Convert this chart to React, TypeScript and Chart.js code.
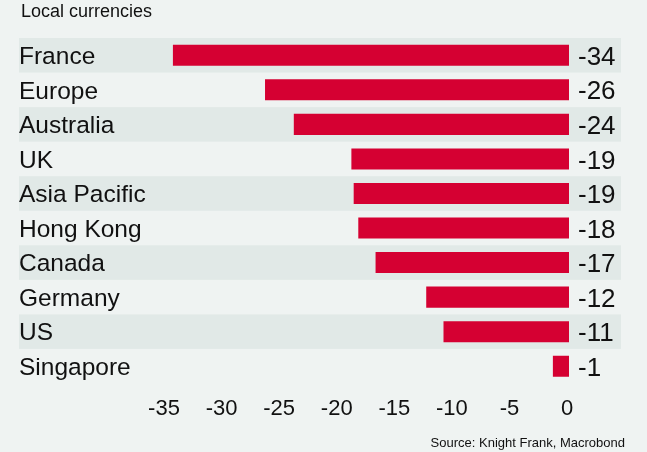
import React, { useEffect, useRef } from "react";
import { Chart, registerables } from "chart.js";

Chart.register(...registerables);

const categories = [
  "France",
  "Europe",
  "Australia",
  "UK",
  "Asia Pacific",
  "Hong Kong",
  "Canada",
  "Germany",
  "US",
  "Singapore",
];
const values = [-34.4, -26.4, -23.9, -18.9, -18.7, -18.3, -16.8, -12.4, -10.9, -1.4];
const valueLabels = ["-34", "-26", "-24", "-19", "-19", "-18", "-17", "-12", "-11", "-1"];
const xMin = -35;
const xMax = 0;
const xStep = 5;
const titleText = "Local currencies";
const sourceText = "Source: Knight Frank, Macrobond";

const BG = "#eff3f2";
const BAND = "#e1e9e7";
const RED = "#d50032";
const TEXT = "#111111";
const FONT = "'Liberation Sans', Arial, sans-serif";

export default function App() {
  const ref = useRef<HTMLCanvasElement | null>(null);

  useEffect(() => {
    if (!ref.current) return;
    const decor = {
      id: "decor",
      beforeDraw(chart: any) {
        const { ctx, width, height } = chart;
        ctx.save();
        ctx.fillStyle = BG;
        ctx.fillRect(0, 0, width, height);
        const y = chart.scales.y;
        const pitch = (y.bottom - y.top) / categories.length;
        ctx.fillStyle = BAND;
        categories.forEach((_c, i) => {
          if (i % 2 === 0) {
            const cy = y.getPixelForValue(i);
            ctx.fillRect(19, cy - pitch / 2, 621 - 19, pitch);
          }
        });
        ctx.fillStyle = TEXT;
        ctx.textBaseline = "middle";
        ctx.textAlign = "left";
        ctx.font = `18px ${FONT}`;
        ctx.fillText(titleText, 21, 12);
        ctx.textAlign = "right";
        ctx.font = `13px ${FONT}`;
        ctx.fillText(sourceText, 625, 443);
        ctx.restore();
      },
      afterDatasetsDraw(chart: any) {
        const { ctx, chartArea } = chart;
        const y = chart.scales.y;
        ctx.save();
        ctx.fillStyle = TEXT;
        ctx.textBaseline = "middle";
        ctx.textAlign = "left";
        ctx.font = `26px ${FONT}`;
        valueLabels.forEach((lab, i) => {
          ctx.fillText(lab, chartArea.right + 9, y.getPixelForValue(i) + 2.5);
        });
        ctx.restore();
      },
    };

    const chart = new Chart(ref.current, {
      type: "bar",
      data: {
        labels: categories,
        datasets: [
          {
            data: values,
            backgroundColor: RED,
            borderWidth: 0,
            categoryPercentage: 1,
            barPercentage: 0.61,
          },
        ],
      },
      options: {
        indexAxis: "y",
        animation: false,
        responsive: false,
        maintainAspectRatio: false,
        layout: { padding: { left: 19, right: 78, top: 38, bottom: 0 } },
        plugins: {
          legend: { display: false },
          tooltip: { enabled: false },
          title: { display: false },
        },
        scales: {
          x: {
            type: "linear",
            min: xMin,
            max: xMax,
            grid: { display: false, drawTicks: false },
            border: { display: false },
            ticks: {
              stepSize: xStep,
              color: TEXT,
              padding: 12,
              labelOffset: -2,
              font: { family: FONT, size: 22 },
            },
            afterFit(scale: any) {
              scale.height = 68.5;
            },
          },
          y: {
            grid: { display: false, drawTicks: false },
            border: { display: false },
            ticks: {
              crossAlign: "far",
              color: TEXT,
              labelOffset: 2,
              font: { family: FONT, size: 24.5 },
            },
            afterFit(scale: any) {
              scale.width = 147;
            },
          },
        },
      } as any,
      plugins: [decor],
    });
    return () => chart.destroy();
  }, []);

  return (
    <div style={{ position: "absolute", left: 0, top: 0, width: 647, height: 452 }}>
      <canvas ref={ref} width={647} height={452} style={{ width: 647, height: 452 }} />
    </div>
  );
}
